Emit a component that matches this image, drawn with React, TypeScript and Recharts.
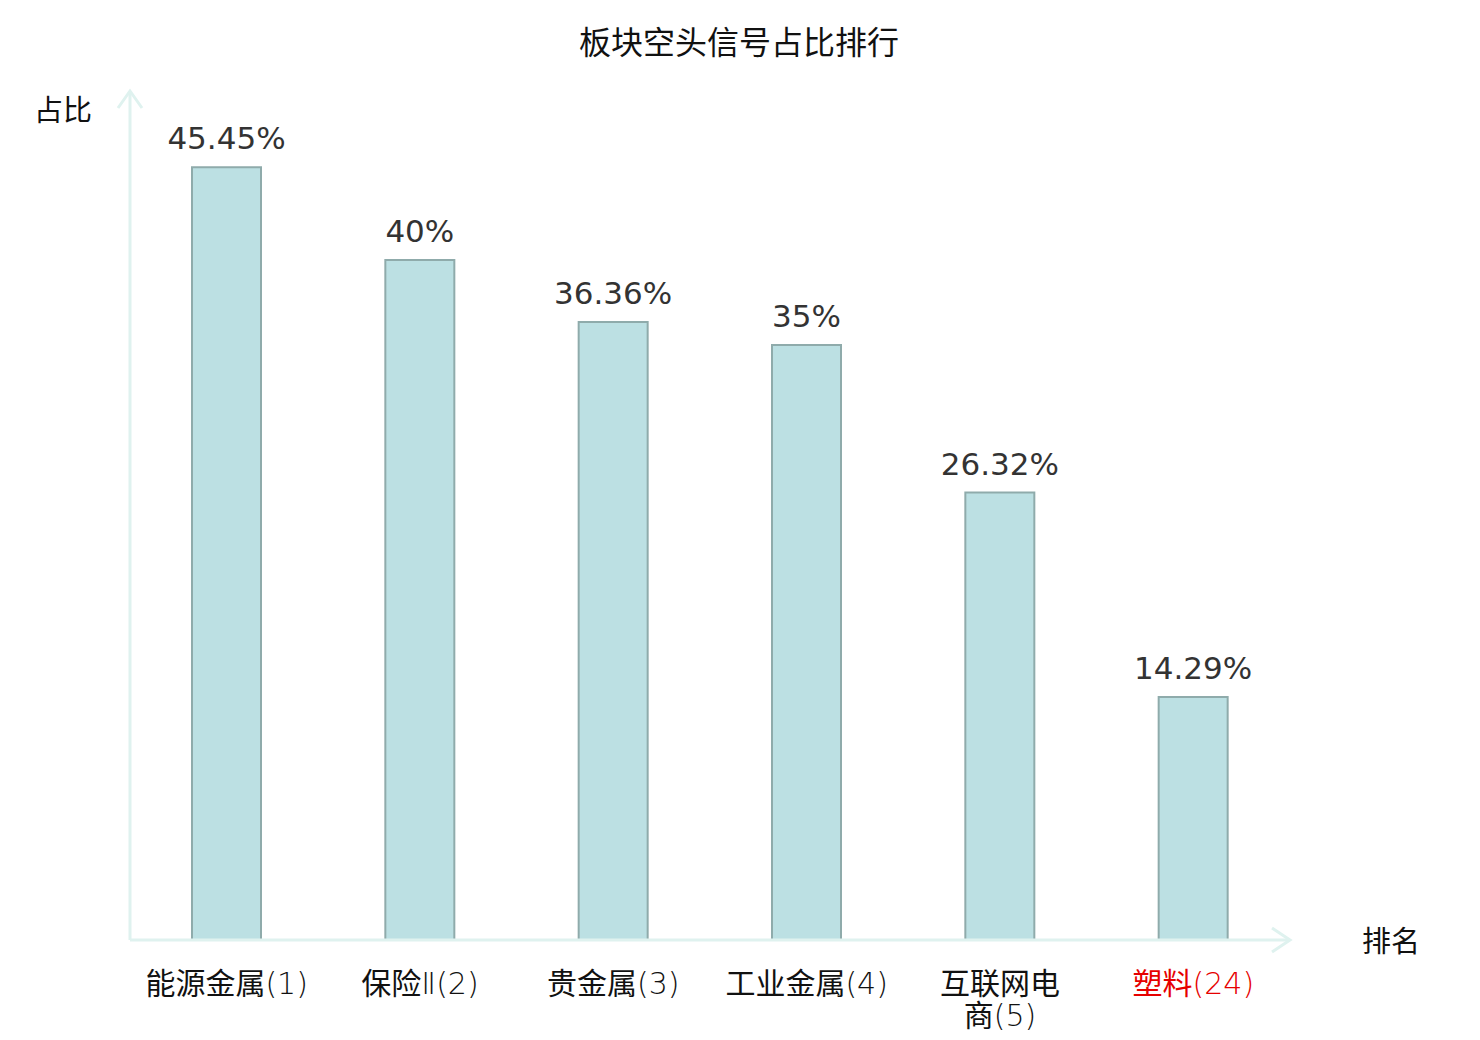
import React from "react";
import { BarChart, Bar, XAxis, YAxis, LabelList, Customized } from "recharts";

const categories = ["能源金属(1)", "保险Ⅱ(2)", "贵金属(3)", "工业金属(4)", "互联网电商(5)", "塑料(24)"];
const shares = [45.45, 40, 36.36, 35, 26.32, 14.29];
const highlighted = ["塑料(24)"];
const yDomain = [0, 50];

const data = categories.map((name, i) => ({ name, value: shares[i] }));

const AXIS = "#dff2ef";
const CJK = "'Noto Sans CJK SC', 'DejaVu Sans', sans-serif";
const TICKFONT = "'DejaVu Sans', 'Noto Sans CJK SC', sans-serif";

function isCJK(ch: string) {
  return /[\u3000-\u9fff\uff00-\uffef]/.test(ch);
}

function wrapLabel(s: string, maxCJK: number) {
  const lines: string[] = [];
  let cur = "";
  let n = 0;
  for (const ch of Array.from(s)) {
    if (isCJK(ch)) {
      if (n >= maxCJK) {
        lines.push(cur);
        cur = "";
        n = 0;
      }
      n += 1;
    }
    cur += ch;
  }
  if (cur) lines.push(cur);
  return lines;
}

function segments(line: string) {
  const segs: { t: string; cjk: boolean }[] = [];
  for (const ch of Array.from(line)) {
    const c = isCJK(ch);
    const last = segs[segs.length - 1];
    if (last && last.cjk === c) last.t += ch;
    else segs.push({ t: ch, cjk: c });
  }
  return segs;
}

const Tick = (props: any) => {
  const { x, y, payload } = props;
  const text = String(payload.value);
  const lines = wrapLabel(text, 4);
  const color = highlighted.includes(text) ? "#e60000" : "#111111";
  return (
    <text x={x} y={y} textAnchor="middle" fill={color} fontSize={30} fontFamily={TICKFONT}>
      {lines.map((l, i) => (
        <tspan key={i} x={x} dy={i === 0 ? 46 : 32}>
          {segments(l).map((s, j) => (
            <tspan key={j} fontWeight={s.cjk ? 400 : 200} fontFamily={s.cjk ? CJK : TICKFONT}>
              {s.t}
            </tspan>
          ))}
        </tspan>
      ))}
    </text>
  );
};

const Decor = () => (
  <g>
    <text x={739} y={54} textAnchor="middle" fontSize={32} fontFamily={CJK} fill="#111">
      板块空头信号占比排行
    </text>
    <text x={63} y={121} textAnchor="middle" fontSize={29} fontFamily={CJK} fill="#111">
      占比
    </text>
    <text x={1391} y={952} textAnchor="middle" fontSize={29} fontFamily={CJK} fill="#111">
      排名
    </text>
    <line x1={130} y1={940} x2={130} y2={91} stroke={AXIS} strokeWidth={3} />
    <polyline points="1272,928 1290,940 1272,952" fill="none" stroke={AXIS} strokeWidth={3} />
    <polyline points="118,108 130,91 142,108" fill="none" stroke={AXIS} strokeWidth={3} />
  </g>
);

export default function App() {
  return (
    <div style={{ position: "absolute", left: 0, top: 0, width: 1480, height: 1040, background: "#fff" }}>
      <BarChart
        width={1480}
        height={1040}
        data={data}
        margin={{ top: 90, right: 190, bottom: 0, left: 130 }}
      >
        <XAxis
          dataKey="name"
          axisLine={{ stroke: AXIS, strokeWidth: 3 }}
          tickLine={false}
          tick={<Tick />}
          interval={0}
          height={100}
        />
        <YAxis domain={yDomain} hide allowDataOverflow />
        <Bar dataKey="value" barSize={69} fill="#bce0e3" stroke="#8fabab" strokeWidth={2} isAnimationActive={false}>
          <LabelList
            dataKey="value"
            position="top"
            offset={18}
            formatter={(v: any) => `${v}%`}
            fill="#333333"
            fontSize={31}
            fontFamily="'DejaVu Sans', sans-serif"
          />
        </Bar>
        <Customized component={Decor} />
      </BarChart>
    </div>
  );
}
